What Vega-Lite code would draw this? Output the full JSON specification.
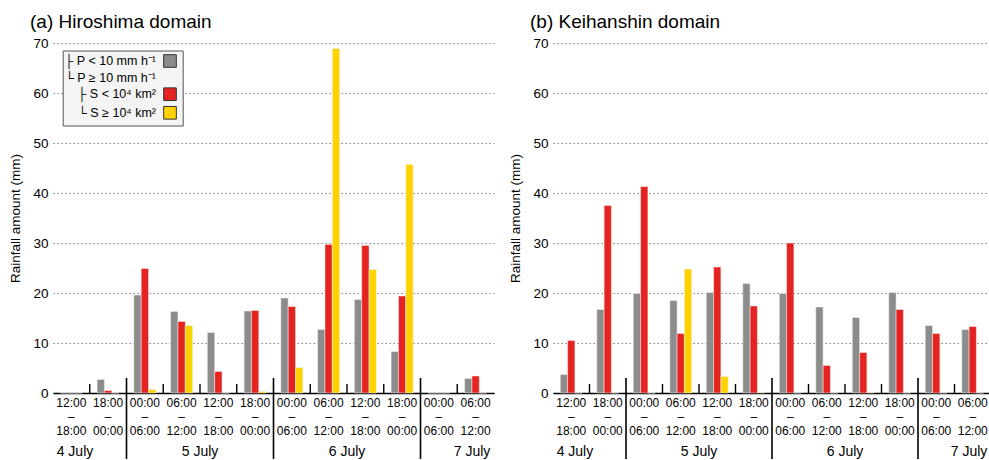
{
  "$schema": "https://vega.github.io/schema/vega-lite/v6.json",
  "padding": {"left": 8, "top": 13, "right": 0, "bottom": 0},
  "spacing": 14,
  "config": {
    "font": "Liberation Sans",
    "view": {"stroke": null},
    "title": {"fontSize": 19, "fontWeight": "normal", "color": "black", "anchor": "start", "frame": "group", "dx": -23, "offset": 4},
    "axisY": {
      "domain": false, "ticks": false,
      "labelFontSize": 13.5, "labelColor": "black", "labelPadding": 5,
      "titleFontSize": 13.5, "titleFontWeight": "normal", "titleColor": "black", "titlePadding": 10,
      "gridColor": "#808080", "gridDash": [1.5, 2.5], "gridWidth": 1
    },
    "axisX": {
      "ticks": false, "grid": false,
      "domainColor": "black", "domainWidth": 1.5,
      "labelFontSize": 12, "labelColor": "black", "labelAngle": 0,
      "labelPadding": 4, "labelLineHeight": 14.2, "labelBaseline": "top"
    }
  },
  "datasets": {
    "hiroshima": [
      {"slot": "4 July 12:00–18:00", "cat": "P < 10 mm h⁻¹", "mm": 0},
      {"slot": "4 July 12:00–18:00", "cat": "S < 10⁴ km²", "mm": 0},
      {"slot": "4 July 12:00–18:00", "cat": "S ≥ 10⁴ km²", "mm": 0},
      {"slot": "4 July 18:00–00:00", "cat": "P < 10 mm h⁻¹", "mm": 2.7},
      {"slot": "4 July 18:00–00:00", "cat": "S < 10⁴ km²", "mm": 0.5},
      {"slot": "4 July 18:00–00:00", "cat": "S ≥ 10⁴ km²", "mm": 0},
      {"slot": "5 July 00:00–06:00", "cat": "P < 10 mm h⁻¹", "mm": 19.6},
      {"slot": "5 July 00:00–06:00", "cat": "S < 10⁴ km²", "mm": 24.9},
      {"slot": "5 July 00:00–06:00", "cat": "S ≥ 10⁴ km²", "mm": 0.7},
      {"slot": "5 July 06:00–12:00", "cat": "P < 10 mm h⁻¹", "mm": 16.3},
      {"slot": "5 July 06:00–12:00", "cat": "S < 10⁴ km²", "mm": 14.3},
      {"slot": "5 July 06:00–12:00", "cat": "S ≥ 10⁴ km²", "mm": 13.5},
      {"slot": "5 July 12:00–18:00", "cat": "P < 10 mm h⁻¹", "mm": 12.1},
      {"slot": "5 July 12:00–18:00", "cat": "S < 10⁴ km²", "mm": 4.3},
      {"slot": "5 July 12:00–18:00", "cat": "S ≥ 10⁴ km²", "mm": 0},
      {"slot": "5 July 18:00–00:00", "cat": "P < 10 mm h⁻¹", "mm": 16.4},
      {"slot": "5 July 18:00–00:00", "cat": "S < 10⁴ km²", "mm": 16.5},
      {"slot": "5 July 18:00–00:00", "cat": "S ≥ 10⁴ km²", "mm": 0.3},
      {"slot": "6 July 00:00–06:00", "cat": "P < 10 mm h⁻¹", "mm": 19.0},
      {"slot": "6 July 00:00–06:00", "cat": "S < 10⁴ km²", "mm": 17.3},
      {"slot": "6 July 00:00–06:00", "cat": "S ≥ 10⁴ km²", "mm": 5.1},
      {"slot": "6 July 06:00–12:00", "cat": "P < 10 mm h⁻¹", "mm": 12.7},
      {"slot": "6 July 06:00–12:00", "cat": "S < 10⁴ km²", "mm": 29.7},
      {"slot": "6 July 06:00–12:00", "cat": "S ≥ 10⁴ km²", "mm": 68.9},
      {"slot": "6 July 12:00–18:00", "cat": "P < 10 mm h⁻¹", "mm": 18.7},
      {"slot": "6 July 12:00–18:00", "cat": "S < 10⁴ km²", "mm": 29.5},
      {"slot": "6 July 12:00–18:00", "cat": "S ≥ 10⁴ km²", "mm": 24.7},
      {"slot": "6 July 18:00–00:00", "cat": "P < 10 mm h⁻¹", "mm": 8.3},
      {"slot": "6 July 18:00–00:00", "cat": "S < 10⁴ km²", "mm": 19.4},
      {"slot": "6 July 18:00–00:00", "cat": "S ≥ 10⁴ km²", "mm": 45.7},
      {"slot": "7 July 00:00–06:00", "cat": "P < 10 mm h⁻¹", "mm": 0},
      {"slot": "7 July 00:00–06:00", "cat": "S < 10⁴ km²", "mm": 0},
      {"slot": "7 July 00:00–06:00", "cat": "S ≥ 10⁴ km²", "mm": 0},
      {"slot": "7 July 06:00–12:00", "cat": "P < 10 mm h⁻¹", "mm": 2.9},
      {"slot": "7 July 06:00–12:00", "cat": "S < 10⁴ km²", "mm": 3.4},
      {"slot": "7 July 06:00–12:00", "cat": "S ≥ 10⁴ km²", "mm": 0}
    ],
    "keihanshin": [
      {"slot": "4 July 12:00–18:00", "cat": "P < 10 mm h⁻¹", "mm": 3.7},
      {"slot": "4 July 12:00–18:00", "cat": "S < 10⁴ km²", "mm": 10.5},
      {"slot": "4 July 12:00–18:00", "cat": "S ≥ 10⁴ km²", "mm": 0},
      {"slot": "4 July 18:00–00:00", "cat": "P < 10 mm h⁻¹", "mm": 16.7},
      {"slot": "4 July 18:00–00:00", "cat": "S < 10⁴ km²", "mm": 37.5},
      {"slot": "4 July 18:00–00:00", "cat": "S ≥ 10⁴ km²", "mm": 0},
      {"slot": "5 July 00:00–06:00", "cat": "P < 10 mm h⁻¹", "mm": 19.9},
      {"slot": "5 July 00:00–06:00", "cat": "S < 10⁴ km²", "mm": 41.3},
      {"slot": "5 July 00:00–06:00", "cat": "S ≥ 10⁴ km²", "mm": 0},
      {"slot": "5 July 06:00–12:00", "cat": "P < 10 mm h⁻¹", "mm": 18.5},
      {"slot": "5 July 06:00–12:00", "cat": "S < 10⁴ km²", "mm": 11.9},
      {"slot": "5 July 06:00–12:00", "cat": "S ≥ 10⁴ km²", "mm": 24.8},
      {"slot": "5 July 12:00–18:00", "cat": "P < 10 mm h⁻¹", "mm": 20.1},
      {"slot": "5 July 12:00–18:00", "cat": "S < 10⁴ km²", "mm": 25.2},
      {"slot": "5 July 12:00–18:00", "cat": "S ≥ 10⁴ km²", "mm": 3.3},
      {"slot": "5 July 18:00–00:00", "cat": "P < 10 mm h⁻¹", "mm": 21.9},
      {"slot": "5 July 18:00–00:00", "cat": "S < 10⁴ km²", "mm": 17.4},
      {"slot": "5 July 18:00–00:00", "cat": "S ≥ 10⁴ km²", "mm": 0.1},
      {"slot": "6 July 00:00–06:00", "cat": "P < 10 mm h⁻¹", "mm": 19.9},
      {"slot": "6 July 00:00–06:00", "cat": "S < 10⁴ km²", "mm": 30.0},
      {"slot": "6 July 00:00–06:00", "cat": "S ≥ 10⁴ km²", "mm": 0},
      {"slot": "6 July 06:00–12:00", "cat": "P < 10 mm h⁻¹", "mm": 17.2},
      {"slot": "6 July 06:00–12:00", "cat": "S < 10⁴ km²", "mm": 5.5},
      {"slot": "6 July 06:00–12:00", "cat": "S ≥ 10⁴ km²", "mm": 0},
      {"slot": "6 July 12:00–18:00", "cat": "P < 10 mm h⁻¹", "mm": 15.1},
      {"slot": "6 July 12:00–18:00", "cat": "S < 10⁴ km²", "mm": 8.1},
      {"slot": "6 July 12:00–18:00", "cat": "S ≥ 10⁴ km²", "mm": 0.1},
      {"slot": "6 July 18:00–00:00", "cat": "P < 10 mm h⁻¹", "mm": 20.1},
      {"slot": "6 July 18:00–00:00", "cat": "S < 10⁴ km²", "mm": 16.7},
      {"slot": "6 July 18:00–00:00", "cat": "S ≥ 10⁴ km²", "mm": 0},
      {"slot": "7 July 00:00–06:00", "cat": "P < 10 mm h⁻¹", "mm": 13.5},
      {"slot": "7 July 00:00–06:00", "cat": "S < 10⁴ km²", "mm": 11.9},
      {"slot": "7 July 00:00–06:00", "cat": "S ≥ 10⁴ km²", "mm": 0},
      {"slot": "7 July 06:00–12:00", "cat": "P < 10 mm h⁻¹", "mm": 12.7},
      {"slot": "7 July 06:00–12:00", "cat": "S < 10⁴ km²", "mm": 13.3},
      {"slot": "7 July 06:00–12:00", "cat": "S ≥ 10⁴ km²", "mm": 0}
    ],
    "days": [
      {"day": "4 July", "slot": "4 July 12:00–18:00"},
      {"day": "5 July", "slot": "5 July 12:00–18:00"},
      {"day": "6 July", "slot": "6 July 12:00–18:00"},
      {"day": "7 July", "slot": "7 July 06:00–12:00"}
    ]
  },
  "resolve": {
    "scale": {"x": "independent", "y": "independent", "xOffset": "independent"},
    "legend": {"color": "independent"}
  },
  "hconcat": [
    {
      "width": 441,
      "height": 350,
      "title": "(a) Hiroshima domain",
      "layer": [
        {
          "data": {"name": "hiroshima"},
          "mark": {"type": "bar", "stroke": "#f2f2f2", "strokeWidth": 0.5},
          "encoding": {
            "x": {"field": "slot", "type": "nominal", "scale": {"paddingInner": 0, "paddingOuter": 0},
                  "axis": {"title": null, "labelExpr": "[slice(datum.label, -11, -6), '–', slice(datum.label, -5)]"}},
            "xOffset": {"field": "cat", "type": "nominal",
                        "scale": {"domain": ["P < 10 mm h⁻¹", "S < 10⁴ km²", "S ≥ 10⁴ km²"], "paddingInner": 0, "paddingOuter": 1}},
            "y": {"field": "mm", "type": "quantitative", "scale": {"domain": [0, 70]},
                  "axis": {"title": "Rainfall amount (mm)", "values": [0, 10, 20, 30, 40, 50, 60, 70]}},
            "color": {
              "field": "cat", "type": "nominal",
              "scale": {"domain": ["P < 10 mm h⁻¹", "P ≥ 10 mm h⁻¹", "S < 10⁴ km²", "S ≥ 10⁴ km²"],
                        "range": ["#8c8c8c", "#ffffff", "#e52421", "#ffd200"]},
              "legend": {
                "orient": "none", "legendX": 9.7, "legendY": 7.5, "title": null, "direction": "vertical",
                "padding": 3.5, "rowPadding": 0.6,
                "fillColor": "#f4f4f4", "strokeColor": "#555555",
                "symbolType": "square", "symbolSize": 160, "symbolStrokeColor": "#333333", "symbolStrokeWidth": 1,
                "symbolOffset": 96.8, "labelOffset": -21, "labelAlign": "right",
                "labelFontSize": 12.5, "labelColor": "black", "labelLimit": 200,
                "labelExpr": "(datum.value == 'P < 10 mm h⁻¹' || datum.value == 'S < 10⁴ km²' ? '├ ' : '└ ') + datum.label",
                "encode": {"symbols": {"update": {
                  "opacity": {"signal": "datum.value == 'P ≥ 10 mm h⁻¹' ? 0 : 1"},
                  "stroke": {"value": "#333333"}
                }}}
              }
            }
          }
        },
        {
          "data": {"name": "hiroshima"},
          "transform": [{"filter": "datum.cat == 'P < 10 mm h⁻¹' && datum.slot != '4 July 12:00–18:00' && indexof(datum.slot, ' 00:00–') < 0"}],
          "mark": {"type": "rule", "color": "black", "strokeWidth": 1.4},
          "encoding": {
            "x": {"field": "slot", "type": "nominal", "bandPosition": 0},
            "y": {"datum": 0},
            "y2": {"datum": 1.8}
          }
        },
        {
          "data": {"name": "hiroshima"},
          "transform": [{"filter": "datum.cat == 'P < 10 mm h⁻¹' && indexof(datum.slot, ' 00:00–') >= 0"}],
          "mark": {"type": "rule", "color": "black", "strokeWidth": 1.6},
          "encoding": {
            "x": {"field": "slot", "type": "nominal", "bandPosition": 0},
            "y": {"datum": 3},
            "y2": {"datum": -13.2}
          }
        },
        {
          "data": {"name": "days"},
          "transform": [{"filter": "datum.day == '5 July' || datum.day == '6 July'"}],
          "mark": {"type": "text", "fontSize": 14, "color": "black", "align": "center", "baseline": "middle"},
          "encoding": {
            "x": {"field": "slot", "type": "nominal", "bandPosition": 0},
            "y": {"datum": -11.8},
            "text": {"field": "day"}
          }
        },
        {
          "data": {"name": "days"},
          "transform": [{"filter": "datum.day == '4 July'"}],
          "mark": {"type": "text", "fontSize": 14, "color": "black", "align": "left", "baseline": "middle"},
          "encoding": {
            "x": {"field": "slot", "type": "nominal", "bandPosition": 0.1},
            "y": {"datum": -11.8},
            "text": {"field": "day"}
          }
        },
        {
          "data": {"name": "days"},
          "transform": [{"filter": "datum.day == '7 July'"}],
          "mark": {"type": "text", "fontSize": 14, "color": "black", "align": "right", "baseline": "middle"},
          "encoding": {
            "x": {"field": "slot", "type": "nominal", "bandPosition": 0.9},
            "y": {"datum": -11.8},
            "text": {"field": "day"}
          }
        }
      ]
    },
    {
      "width": 438,
      "height": 350,
      "title": "(b) Keihanshin domain",
      "layer": [
        {
          "data": {"name": "keihanshin"},
          "mark": {"type": "bar", "stroke": "#f2f2f2", "strokeWidth": 0.5},
          "encoding": {
            "x": {"field": "slot", "type": "nominal", "scale": {"paddingInner": 0, "paddingOuter": 0},
                  "axis": {"title": null, "labelExpr": "[slice(datum.label, -11, -6), '–', slice(datum.label, -5)]"}},
            "xOffset": {"field": "cat", "type": "nominal",
                        "scale": {"domain": ["P < 10 mm h⁻¹", "S < 10⁴ km²", "S ≥ 10⁴ km²"], "paddingInner": 0, "paddingOuter": 1}},
            "y": {"field": "mm", "type": "quantitative", "scale": {"domain": [0, 70]},
                  "axis": {"title": "Rainfall amount (mm)", "values": [0, 10, 20, 30, 40, 50, 60, 70]}},
            "color": {
              "field": "cat", "type": "nominal",
              "scale": {"domain": ["P < 10 mm h⁻¹", "P ≥ 10 mm h⁻¹", "S < 10⁴ km²", "S ≥ 10⁴ km²"],
                        "range": ["#8c8c8c", "#ffffff", "#e52421", "#ffd200"]},
              "legend": null
            }
          }
        },
        {
          "data": {"name": "keihanshin"},
          "transform": [{"filter": "datum.cat == 'P < 10 mm h⁻¹' && datum.slot != '4 July 12:00–18:00' && indexof(datum.slot, ' 00:00–') < 0"}],
          "mark": {"type": "rule", "color": "black", "strokeWidth": 1.4},
          "encoding": {
            "x": {"field": "slot", "type": "nominal", "bandPosition": 0},
            "y": {"datum": 0},
            "y2": {"datum": 1.8}
          }
        },
        {
          "data": {"name": "keihanshin"},
          "transform": [{"filter": "datum.cat == 'P < 10 mm h⁻¹' && indexof(datum.slot, ' 00:00–') >= 0"}],
          "mark": {"type": "rule", "color": "black", "strokeWidth": 1.6},
          "encoding": {
            "x": {"field": "slot", "type": "nominal", "bandPosition": 0},
            "y": {"datum": 3},
            "y2": {"datum": -13.2}
          }
        },
        {
          "data": {"name": "days"},
          "transform": [{"filter": "datum.day == '5 July' || datum.day == '6 July'"}],
          "mark": {"type": "text", "fontSize": 14, "color": "black", "align": "center", "baseline": "middle"},
          "encoding": {
            "x": {"field": "slot", "type": "nominal", "bandPosition": 0},
            "y": {"datum": -11.8},
            "text": {"field": "day"}
          }
        },
        {
          "data": {"name": "days"},
          "transform": [{"filter": "datum.day == '4 July'"}],
          "mark": {"type": "text", "fontSize": 14, "color": "black", "align": "left", "baseline": "middle"},
          "encoding": {
            "x": {"field": "slot", "type": "nominal", "bandPosition": 0.1},
            "y": {"datum": -11.8},
            "text": {"field": "day"}
          }
        },
        {
          "data": {"name": "days"},
          "transform": [{"filter": "datum.day == '7 July'"}],
          "mark": {"type": "text", "fontSize": 14, "color": "black", "align": "right", "baseline": "middle"},
          "encoding": {
            "x": {"field": "slot", "type": "nominal", "bandPosition": 0.9},
            "y": {"datum": -11.8},
            "text": {"field": "day"}
          }
        }
      ]
    }
  ]
}
